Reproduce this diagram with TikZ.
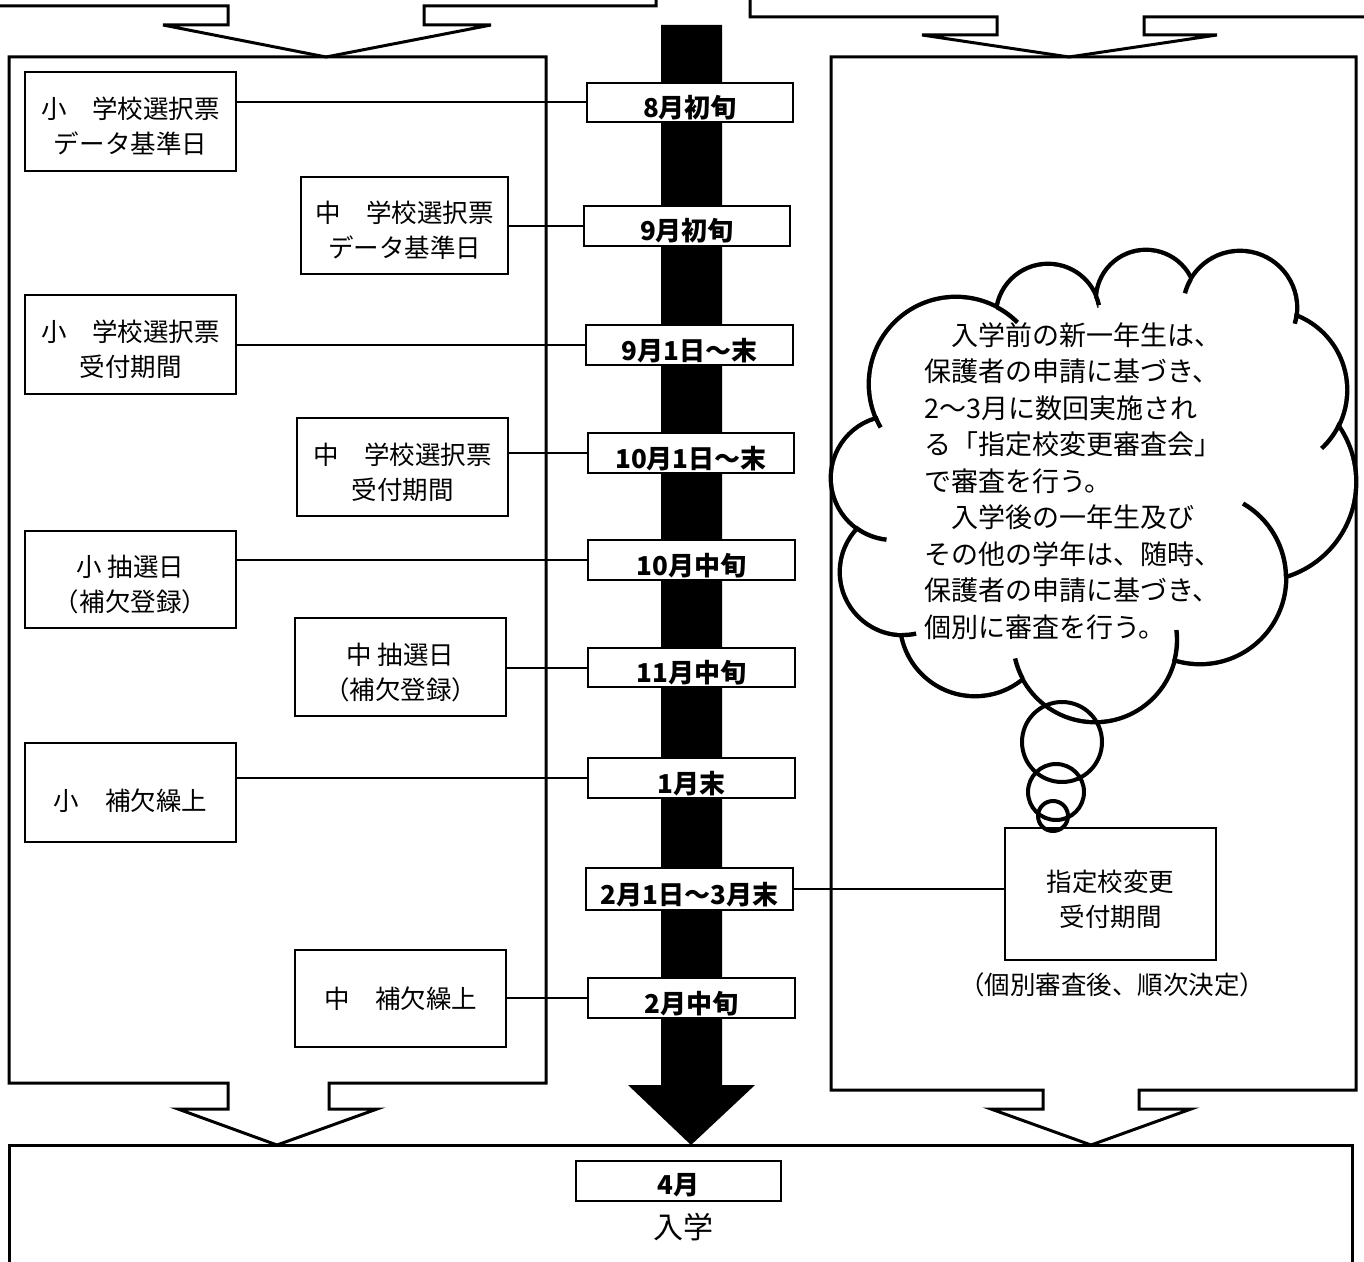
\documentclass[tikz,border=0pt]{standalone}
\usepackage{fontspec}
\newfontfamily\jp{Noto Sans CJK JP}
\begin{document}
\begin{tikzpicture}[x=0.5pt,y=-0.5pt,
  ibox/.style={draw, line width=1pt, inner sep=0pt, align=center, minimum width=105.5pt, font=\jp\fontsize{12.75}{17.5}\selectfont},
  dbox/.style={draw, line width=1pt, fill=white, inner sep=0pt, minimum width=103.5pt, minimum height=20pt, text height=15pt, text depth=0pt, font=\jp\bfseries\fontsize{13}{15}\selectfont},
  conn/.style={line width=1pt},
  panelline/.style={line width=1.5pt, line join=miter},
  cl/.style={line width=2pt},
  ctxt/.style={font=\jp\fontsize{13.5}{18.25}\selectfont, align=left, inner sep=0pt},
]
\useasboundingbox (0,0) rectangle (1364,1262);
\clip (0,0) rectangle (1364,1262);

% top containers with open arrows
\draw[panelline] (-10,6) -- (228,6) -- (228,25) -- (163,25) -- (326,57) -- (491,25) -- (424,25) -- (424,6) -- (656,6) -- (656,-10);
\draw[panelline] (750,-10) -- (750,17) -- (997,17) -- (997,35) -- (922,35) -- (1069,57) -- (1217,35) -- (1144,35) -- (1144,17) -- (1380,17);

% left panel with bottom arrow
\draw[panelline] (228,1083) -- (9,1083) -- (9,57) -- (546,57) -- (546,1083) -- (329,1083) -- (329,1109) -- (377,1109) -- (277,1145) -- (178,1109) -- (228,1109) -- cycle;

% bottom box
\draw[panelline] (9,1145) rectangle (1352,1290);

% central black timeline arrow
\fill[black] (661,25) -- (722,25) -- (722,1085) -- (755,1085) -- (691,1145) -- (628,1085) -- (661,1085) -- cycle;

% cloud (union of circles)
\foreach \cx/\cy/\r in {956/384/87,1048/316/52,1146/300/50,1240/308/57,1267/390/80,1257/482/99,1200/578/86,1095/640/82,975/621/75,903/572/63,893/478/62}
  {\draw[line width=4.4pt] (\cx,\cy) circle[radius=\r-2];}
\foreach \cx/\cy/\r in {956/384/87,1048/316/52,1146/300/50,1240/308/57,1267/390/80,1257/482/99,1200/578/86,1095/640/82,975/621/75,903/572/63,893/478/62}
  {\fill[white] (\cx,\cy) circle[radius=\r-2];}
\fill[white] (956,384) -- (1048,316) -- (1146,300) -- (1240,308) -- (1267,390) -- (1257,482) -- (1200,578) -- (1095,640) -- (975,621) -- (903,572) -- (893,478) -- cycle;
% inner strokes of the cloud
\foreach \cx/\cy/\r/\a/\b in {956/384/87/-62/-45, 1048/316/52/-23/-12, 1240/308/57/195/210, 1240/308/57/5/16, 1267/390/80/24/47, 1200/578/86/-60/0, 1095/640/82/152/167, 1095/640/82/-7/15, 903/572/63/78/91, 893/478/62/96/127, 956/384/87/150/158}
  {\draw[line width=2.2pt] (\cx,\cy) ++(\a:\r) arc[start angle=\a, end angle=\b, radius=\r];}

\node[ctxt, anchor=north west] (ctext) at (924,322) {　入学前の新一年生は、\\保護者の申請に基づき、\\2～3月に数回実施され\\る「指定校変更審査会」\\で審査を行う。\\　入学後の一年生及び\\その他の学年は、随時、\\保護者の申請に基づき、\\個別に審査を行う。};

% right panel with bottom arrow
\draw[panelline] (1043,1090) -- (831,1090) -- (831,57) -- (1356,57) -- (1356,1090) -- (1139,1090) -- (1139,1109) -- (1191,1109) -- (1091,1145) -- (991,1109) -- (1043,1109) -- cycle;

% left boxes
\node[ibox, minimum height=49.5pt] (b1) at (130.5,121.5) {\rule{0pt}{3pt}\\[-4.5pt]小　学校選択票\\データ基準日};
\node[ibox, minimum width=103.5pt, minimum height=48.5pt] (b2) at (404.5,225.5) {\rule{0pt}{3pt}\\[-4.5pt]中　学校選択票\\データ基準日};
\node[ibox, minimum height=49.5pt] (b3) at (130.5,344.5) {\rule{0pt}{3pt}\\[-4.5pt]小　学校選択票\\受付期間};
\node[ibox, minimum height=49pt] (b4) at (402.5,467) {\rule{0pt}{3pt}\\[-4.5pt]中　学校選択票\\受付期間};
\node[ibox, minimum height=48.5pt] (b5) at (130.5,579.5) {\rule{0pt}{3pt}\\[-4.5pt]小 抽選日\\（補欠登録）};
\node[ibox, minimum height=49pt] (b6) at (400.5,667) {\rule{0pt}{3pt}\\[-4.5pt]中 抽選日\\（補欠登録）};
\node[ibox, minimum height=49.5pt] (b7) at (130.5,792.5) {\rule{0pt}{3pt}\\[-1pt]小　補欠繰上};
\node[ibox, minimum height=48.5pt] (b8) at (400.5,998.5) {中　補欠繰上};
\node[ibox, minimum height=66pt] (b9) at (1110.5,894) {\rule{0pt}{3pt}\\[-4.5pt]指定校変更\\受付期間};
\node[font=\jp\fontsize{12.75}{15}\selectfont, inner sep=0pt] (note) at (1112,985) {（個別審査後、順次決定）};

% date boxes
\node[dbox, minimum height=19.5pt, minimum width=103pt] (d1) at (690,102.5) {8月初旬};
\node[dbox, minimum width=103pt] (d2) at (687,226) {9月初旬};
\node[dbox] (d3) at (689.5,345) {9月1日～末};
\node[dbox, minimum width=103pt] (d4) at (691,453) {10月1日～末};
\node[dbox] (d5) at (691.5,560) {10月中旬};
\node[dbox, minimum height=19.5pt] (d6) at (691.5,667.5) {11月中旬};
\node[dbox] (d7) at (691.5,778) {1月末};
\node[dbox, minimum height=21pt] (d8) at (689.5,889) {2月1日～3月末};
\node[dbox] (d9) at (691.5,998) {2月中旬};
\node[dbox, minimum width=102.5pt, text height=13.5pt] (d10) at (678.5,1181) {4月};
\node[font=\jp\fontsize{15}{18}\selectfont, inner sep=0pt] (enter) at (683,1227) {入学};

% connectors
\draw[conn] (b1.east |- d1.west) -- (d1.west);
\draw[conn] (b2.east |- d2.west) -- (d2.west);
\draw[conn] (b3.east |- d3.west) -- (d3.west);
\draw[conn] (b4.east |- d4.west) -- (d4.west);
\draw[conn] (b5.east |- d5.west) -- (d5.west);
\draw[conn] (b6.east |- d6.west) -- (d6.west);
\draw[conn] (b7.east |- d7.west) -- (d7.west);
\draw[conn] (b8.east |- d9.west) -- (d9.west);
\draw[conn] (d8.east) -- (d8.east -| b9.west);

% thought bubbles
\draw[cl] (1062,742) circle[radius=40];
\draw[cl] (1056,792) circle[radius=28];
\draw[cl] (1053,816) circle[radius=15];
\end{tikzpicture}
\end{document}
